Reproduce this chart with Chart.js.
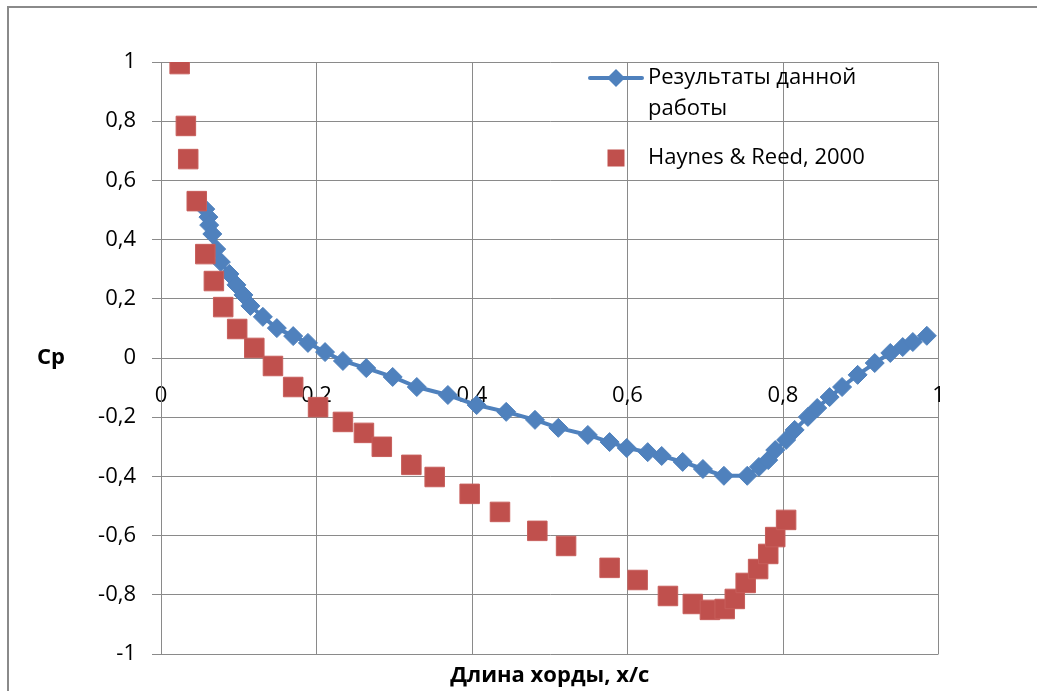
<!DOCTYPE html>
<html>
<head>
<meta charset="utf-8">
<script src="https://cdn.jsdelivr.net/npm/chart.js@4.4.1/dist/chart.umd.min.js"></script>
<style>
  html, body { margin: 0; padding: 0; background: #ffffff; }
  #wrap { position: relative; width: 1037px; height: 691px; overflow: hidden; }
  #frame { position: absolute; left: 7px; top: 6px; width: 1200px; height: 900px;
           border: 2px solid #8a8a8a; box-sizing: border-box; }
  #c { position: absolute; left: 0; top: 0; }
</style>
</head>
<body>
<div id="wrap">
  <div id="frame"></div>
  <canvas id="c" width="1037" height="691"></canvas>
</div>
<script>
// Series names
const seriesNames = ['Результаты данной работы', 'Haynes & Reed, 2000'];
const legendLines = [['Результаты данной', 'работы'], ['Haynes & Reed, 2000']];

// Present computation: chord position x/c and pressure coefficient Cp
const ourX  = [0.057, 0.061, 0.062, 0.066, 0.071, 0.077, 0.088, 0.097, 0.106, 0.115,
               0.131, 0.149, 0.170, 0.189, 0.211, 0.234, 0.264, 0.298, 0.329, 0.369,
               0.406, 0.444, 0.481, 0.511, 0.549, 0.577, 0.599, 0.626, 0.644, 0.671,
               0.697, 0.724, 0.754, 0.769, 0.781, 0.790, 0.804, 0.815, 0.832, 0.844,
               0.860, 0.876, 0.896, 0.918, 0.938, 0.954, 0.967, 0.985];
const ourCp = [0.503, 0.476, 0.449, 0.419, 0.368, 0.324, 0.284, 0.247, 0.213, 0.176,
               0.139, 0.101, 0.074, 0.051, 0.020, -0.010, -0.034, -0.064, -0.098, -0.125,
               -0.159, -0.182, -0.209, -0.236, -0.260, -0.284, -0.304, -0.318, -0.331, -0.351,
               -0.375, -0.398, -0.398, -0.368, -0.345, -0.311, -0.277, -0.243, -0.199, -0.169,
               -0.132, -0.098, -0.057, -0.017, 0.017, 0.037, 0.054, 0.075];

// Experiment (Haynes & Reed, 2000)
const hrX  = [0.024, 0.032, 0.035, 0.046, 0.057, 0.068, 0.080, 0.098, 0.120, 0.144,
              0.170, 0.202, 0.234, 0.261, 0.284, 0.322, 0.352, 0.397, 0.436, 0.484,
              0.521, 0.577, 0.613, 0.652, 0.684, 0.706, 0.725, 0.738, 0.752, 0.768,
              0.781, 0.790, 0.804];
const hrCp = [0.993, 0.784, 0.672, 0.530, 0.351, 0.260, 0.172, 0.098, 0.034, -0.027,
              -0.098, -0.166, -0.216, -0.253, -0.300, -0.361, -0.402, -0.459, -0.520, -0.584,
              -0.635, -0.709, -0.750, -0.804, -0.831, -0.851, -0.848, -0.814, -0.760, -0.713,
              -0.662, -0.605, -0.547];

// Axis ticks and their labels
const xTicks = [0, 0.2, 0.4, 0.6, 0.8, 1];
const xTickLabels = ['0', '0,2', '0,4', '0,6', '0,8', '1'];
const yTicks = [-1, -0.8, -0.6, -0.4, -0.2, 0, 0.2, 0.4, 0.6, 0.8, 1];
const yTickLabels = ['-1', '-0,8', '-0,6', '-0,4', '-0,2', '0', '0,2', '0,4', '0,6', '0,8', '1'];

const xTitle = 'Длина хорды, x/c';
const yTitle = 'Cp';

const FONT = "'Open Sans', 'Noto Sans', sans-serif";
const BLUE = '#4F81BD';
const RED = '#C0504D';
const GRID = '#8a8a8a';

const toPoints = (xs, ys) => xs.map((x, i) => ({ x: x, y: ys[i] }));

// Axis titles (horizontal "Cp") and the in-plot legend
const decorations = {
  id: 'decorations',
  afterDatasetsDraw(chart) {
    const ctx = chart.ctx;
    const area = chart.chartArea;
    ctx.save();
    ctx.fillStyle = '#000';
    ctx.textBaseline = 'middle';

    ctx.font = `bold 22px ${FONT}`;
    ctx.textAlign = 'center';
    ctx.fillText(yTitle, 51, chart.scales.y.getPixelForValue(0));
    ctx.fillText(xTitle, (area.left + area.right) / 2, 676);

    // legend
    const lx = 588, tx = 648;
    ctx.font = `22px ${FONT}`;
    ctx.textAlign = 'left';
    // entry 1: line with diamond
    const y1 = 78;
    ctx.strokeStyle = BLUE;
    ctx.lineWidth = 4;
    ctx.lineCap = 'round';
    ctx.beginPath();
    ctx.moveTo(lx + 2, y1);
    ctx.lineTo(lx + 54, y1);
    ctx.stroke();
    const dx = lx + 28, r = 9;
    ctx.fillStyle = BLUE;
    ctx.beginPath();
    ctx.moveTo(dx, y1 - r); ctx.lineTo(dx + r, y1); ctx.lineTo(dx, y1 + r); ctx.lineTo(dx - r, y1);
    ctx.closePath();
    ctx.fill();
    ctx.fillStyle = '#000';
    legendLines[0].forEach((t, i) => ctx.fillText(t, tx, y1 + i * 31));
    // entry 2: square marker
    const y2 = 158, s = 17;
    ctx.fillStyle = RED;
    ctx.fillRect(lx + 28 - s / 2, y2 - s / 2, s, s);
    ctx.fillStyle = '#000';
    ctx.fillText(legendLines[1][0], tx, y2);
    ctx.restore();
  }
};

new Chart(document.getElementById('c'), {
  type: 'scatter',
  data: {
    datasets: [
      {
        label: seriesNames[0],
        data: toPoints(ourX, ourCp),
        showLine: true,
        borderColor: BLUE,
        backgroundColor: BLUE,
        borderWidth: 4,
        borderJoinStyle: 'round',
        borderCapStyle: 'round',
        pointStyle: 'rectRot',
        pointRadius: 9.5,
        pointBorderWidth: 1,
        pointBorderColor: BLUE,
        pointBackgroundColor: BLUE,
        order: 2
      },
      {
        label: seriesNames[1],
        data: toPoints(hrX, hrCp),
        showLine: false,
        pointStyle: 'rect',
        pointRadius: 13.8,
        pointBorderWidth: 1,
        pointBorderColor: '#c75e5b',
        pointBackgroundColor: RED,
        backgroundColor: RED,
        borderColor: RED,
        order: 1
      }
    ]
  },
  options: {
    responsive: false,
    devicePixelRatio: 1,
    animation: false,
    layout: { padding: { left: 0, top: 62, right: 98.5, bottom: 37 } },
    plugins: {
      legend: { display: false },
      tooltip: { enabled: false },
      title: { display: false }
    },
    scales: {
      x: {
        type: 'linear',
        position: { y: 0 },
        min: 0,
        max: 1,
        afterBuildTicks: (scale) => { scale.ticks = xTicks.map(v => ({ value: v })); },
        afterFit: (scale) => { scale.height = 0; },
        ticks: {
          padding: 16,
          color: '#000',
          font: { family: FONT, size: 22 },
          callback: (v, i) => xTickLabels[i],
          maxRotation: 0,
          autoSkip: false
        },
        grid: { color: GRID, lineWidth: 1, tickLength: 9, drawTicks: true },
        border: { display: true, color: GRID, width: 1 }
      },
      y: {
        type: 'linear',
        position: 'left',
        min: -1,
        max: 1,
        afterBuildTicks: (scale) => { scale.ticks = yTicks.map(v => ({ value: v })); },
        afterFit: (scale) => { scale.width = 161; },
        ticks: {
          padding: 16,
          color: '#000',
          font: { family: FONT, size: 22 },
          callback: (v, i) => yTickLabels[i],
          autoSkip: false
        },
        grid: { color: GRID, lineWidth: 1, tickLength: 9, drawTicks: true },
        border: { display: true, color: GRID, width: 1 }
      }
    }
  },
  plugins: [decorations]
});
</script>
</body>
</html>
